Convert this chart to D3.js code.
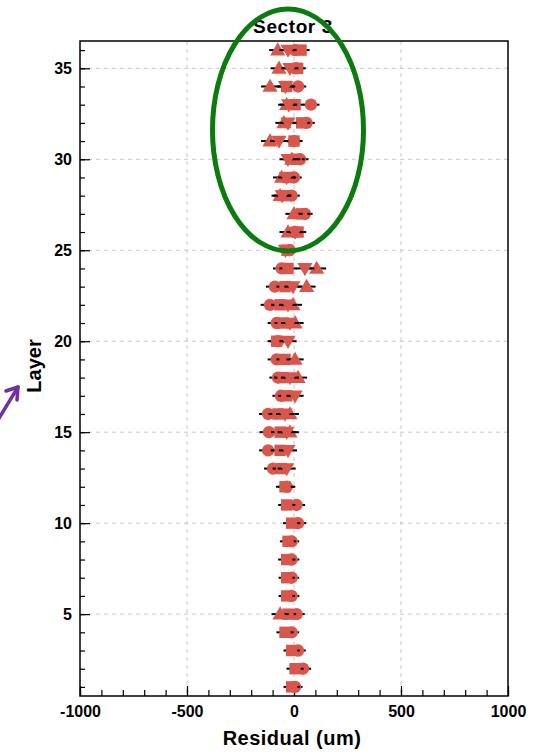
<!DOCTYPE html>
<html><head><meta charset="utf-8">
<script src="https://cdn.jsdelivr.net/npm/d3@7"></script>
<style>body{margin:0;background:#fff;} text{font-family:"Liberation Sans",Arial,sans-serif;font-weight:bold;}</style>
</head><body>
<svg id="chart" width="538" height="756"></svg>
<script>
const layers = d3.range(1, 37);
const circleVals = [5,42,19,-11,12,-11,-11,-11,-11,19,12,-34,-98,-121,-117,-121,-61,-75,-81,-75,-81,-112,-89,-58,-20,5,51,-11,0,28,0,59,79,19,10,5];
const squareVals = [-11,5,-11,-42,-28,-34,-34,-34,-28,-11,-34,-42,-58,-65,-65,-75,-34,-51,-42,-81,-51,-65,-42,-28,-33,19,36,-51,-28,10,0,36,5,-34,17,33];
const triUpVals = [null,null,null,null,-65,null,null,null,null,null,null,null,null,null,-19,-19,null,19,5,null,5,-5,59,106,null,-28,0,-65,-58,-10,-112,-47,-34,-112,-70,-76];
const triDownVals = [null,null,null,null,null,null,null,null,null,null,null,null,-34,-28,-34,-42,5,-19,null,-28,-19,-28,-5,51,-40,5,null,-55,-35,-28,-70,-28,-25,-40,-19,-28];
const circleErr = [35,38,36,35,38,36,35,36,35,38,40,40,42,42,44,42,40,40,42,40,42,44,42,40,38,38,36,38,36,40,38,38,40,38,36,38];
const squareErr = [38,40,38,40,38,38,38,40,38,40,40,42,42,44,42,44,40,42,40,42,40,42,40,40,38,38,40,38,38,40,40,40,38,40,38,40];
const triUpErr = [40,40,40,40,40,40,40,40,40,40,40,40,40,40,42,42,40,42,40,40,40,42,42,44,40,40,40,40,40,40,42,40,40,42,40,40];
const triDownErr = [40,40,40,40,40,40,40,40,40,40,40,40,42,42,42,42,40,42,40,40,42,42,40,44,40,40,40,42,40,40,42,40,40,40,40,40];
const xTicksMajor = [-1000,-500,0,500,1000];
const yTicksMajor = [5,10,15,20,25,30,35];

const series = [
  {name:"circle", sym:d3.symbolCircle, size:120, rot:0, vals:circleVals, err:circleErr},
  {name:"square", sym:d3.symbolSquare, size:130, rot:0, vals:squareVals, err:squareErr},
  {name:"triUp", sym:d3.symbolTriangle, size:100, rot:0, vals:triUpVals, err:triUpErr},
  {name:"triDown", sym:d3.symbolTriangle, size:100, rot:180, vals:triDownVals, err:triDownErr}
];

const svg = d3.select("#chart");
const L = 80, R = 508, T = 41, B = 696;
const x = d3.scaleLinear().domain([-1000, 1000]).range([L, R]);
const y = d3.scaleLinear().domain([0.5, 36.5]).range([B, T]);
const red = "#d8564b";

// grid
const grid = svg.append("g");
grid.selectAll(".gx").data(xTicksMajor.filter(d => d > -1000 && d < 1000)).join("line")
  .attr("x1", d => x(d)).attr("x2", d => x(d)).attr("y1", T).attr("y2", B)
  .attr("stroke", "#c8c8c8").attr("stroke-dasharray", "4,4").attr("stroke-width", 1);
grid.selectAll(".gy").data(yTicksMajor).join("line")
  .attr("y1", d => y(d)).attr("y2", d => y(d)).attr("x1", L).attr("x2", R)
  .attr("stroke", "#c8c8c8").attr("stroke-dasharray", "4,4").attr("stroke-width", 1);

// axes
const fmt = d => String(d);
const xMinor = d3.axisBottom(x).tickValues(d3.range(-1000, 1001, 100)).tickSize(-6).tickFormat("");
const xMajor = d3.axisBottom(x).tickValues(xTicksMajor).tickSize(-10).tickPadding(10).tickFormat(fmt);
const yMinor = d3.axisLeft(y).tickValues(d3.range(1, 37)).tickSize(-5).tickFormat("");
const yMajor = d3.axisLeft(y).tickValues(yTicksMajor).tickSize(-10).tickPadding(8).tickFormat(fmt);
function styleAxis(g){ g.select(".domain").remove(); g.selectAll("line").attr("stroke","#000").attr("stroke-width",1.2); g.selectAll("text").attr("font-size",16).attr("fill","#000").style("font-weight","bold"); }
svg.append("g").attr("transform", `translate(0,${B})`).call(xMinor).call(styleAxis);
svg.append("g").attr("transform", `translate(0,${B})`).call(xMajor).call(styleAxis);
svg.append("g").attr("transform", `translate(${L},0)`).call(yMinor).call(styleAxis);
svg.append("g").attr("transform", `translate(${L},0)`).call(yMajor).call(styleAxis);

// data
const plot = svg.append("g");
series.forEach(s => {
  const pts = layers.map((l, i) => ({l, v: s.vals[i], e: s.err[i]})).filter(d => d.v !== null);
  const g = plot.append("g");
  g.selectAll("line").data(pts).join("line")
    .attr("x1", d => x(d.v - d.e)).attr("x2", d => x(d.v + d.e))
    .attr("y1", d => y(d.l)).attr("y2", d => y(d.l))
    .attr("stroke", "#000").attr("stroke-width", 2);
  g.selectAll("path").data(pts).join("path")
    .attr("d", d3.symbol().type(s.sym).size(s.size))
    .attr("transform", d => `translate(${x(d.v)},${y(d.l) + (s.name==="triUp"?1:(s.name==="triDown"?-1:0))}) rotate(${s.rot})`)
    .attr("fill", red);
});

// frame
svg.append("rect").attr("x", L).attr("y", T).attr("width", R - L).attr("height", B - T)
  .attr("fill", "none").attr("stroke", "#000").attr("stroke-width", 1.5);

// titles
svg.append("text").attr("x", 293).attr("y", 33).attr("text-anchor", "middle").attr("font-size", 19).attr("letter-spacing", 0.6).text("Sector 3");
svg.append("text").attr("x", 292).attr("y", 745).attr("text-anchor", "middle").attr("font-size", 20).attr("letter-spacing", 0.5).text("Residual (um)");
svg.append("text").attr("transform", "translate(41,366) rotate(-90)").attr("text-anchor", "middle").attr("font-size", 20).text("Layer");

// annotations
svg.append("ellipse").attr("cx", 288).attr("cy", 130).attr("rx", 75.5).attr("ry", 121)
  .attr("fill", "none").attr("stroke", "#0b7a0f").attr("stroke-width", 5);
const arrow = svg.append("g").attr("stroke", "#7030a0").attr("stroke-width", 3.5).attr("fill", "none").attr("stroke-linecap", "round").attr("stroke-linejoin", "round");
arrow.append("line").attr("x1", -2).attr("y1", 420).attr("x2", 18).attr("y2", 387);
arrow.append("polyline").attr("points", "6,391 18,387 17,400");
</script>
</body></html>
